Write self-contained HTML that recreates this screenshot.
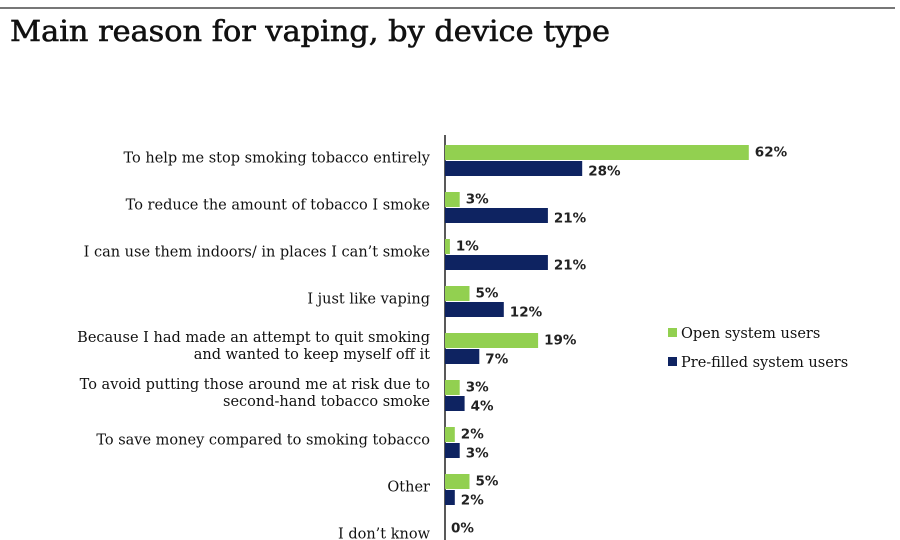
<!DOCTYPE html>
<html><head><meta charset="utf-8"><style>
body{margin:0;background:#fff;width:900px;height:540px;overflow:hidden}
svg{display:block}
.lab{font-family:"DejaVu Serif","Liberation Serif",serif;font-size:14.5px;fill:#111}
.val{font-family:"DejaVu Sans","Liberation Sans",sans-serif;font-size:13.5px;font-weight:bold;fill:#222}
</style></head><body>
<svg id="c" width="900" height="540">
<line x1="0" y1="8" x2="895" y2="8" stroke="#777" stroke-width="2"/>
<text x="10" y="41" font-family="DejaVu Serif,Liberation Serif,serif" font-size="29" fill="#111" stroke="#111" stroke-width="0.6" textLength="600" lengthAdjust="spacingAndGlyphs">Main reason for vaping, by device type</text>
<line x1="445" y1="135" x2="445" y2="540" stroke="#222" stroke-width="1.5"/>
<rect x="668" y="328" width="9" height="9" fill="#92d050"/>
<text x="681" y="338" class="lab">Open system users</text>
<rect x="668" y="357" width="9" height="9" fill="#0e2361"/>
<text x="681" y="367" class="lab">Pre-filled system users</text>
</svg>
<script>
const categories=[["To help me stop smoking tobacco entirely"],["To reduce the amount of tobacco I smoke"],["I can use them indoors/ in places I can’t smoke"],["I just like vaping"],["Because I had made an attempt to quit smoking","and wanted to keep myself off it"],["To avoid putting those around me at risk due to","second-hand tobacco smoke"],["To save money compared to smoking tobacco"],["Other"],["I don’t know"]];
const openValues=[62,3,1,5,19,3,2,5,0];
const prefilledValues=[28,21,21,12,7,4,3,2,0];
const svg=document.getElementById('c');
const NS='http://www.w3.org/2000/svg';
const x0=445,pxPer=4.9;
const xs=v=>x0+v*pxPer;
const yc=i=>160.5+i*47;
function mk(t,a){const e=document.createElementNS(NS,t);for(const k in a)e.setAttribute(k,a[k]);svg.appendChild(e);return e;}
categories.forEach((lines,i)=>{
  const c=yc(i);
  const t=mk('text',{x:430,'text-anchor':'end',class:'lab'});
  
  
  const n=lines.length;
  lines.forEach((l,j)=>{const s=document.createElementNS(NS,'tspan');s.setAttribute('x',430);s.setAttribute('y',c+(j-(n-1)/2)*17+2);s.textContent=l;t.appendChild(s);});
  const g=mk('rect',{x:x0,y:c-15.5,width:Math.max(0,xs(openValues[i])-x0),height:15,fill:'#92d050'});
  
  
  const b=mk('rect',{x:x0,y:c+0.5,width:Math.max(0,xs(prefilledValues[i])-x0),height:15,fill:'#0e2361'});
  
  
  const vg=mk('text',{x:xs(openValues[i])+6,y:c-4,class:'val'});vg.textContent=openValues[i]+'%';
  
  
  const vb=mk('text',{x:xs(prefilledValues[i])+6,y:c+15,class:'val'});vb.textContent=prefilledValues[i]+'%';
  
  
});
</script>
</body></html>
